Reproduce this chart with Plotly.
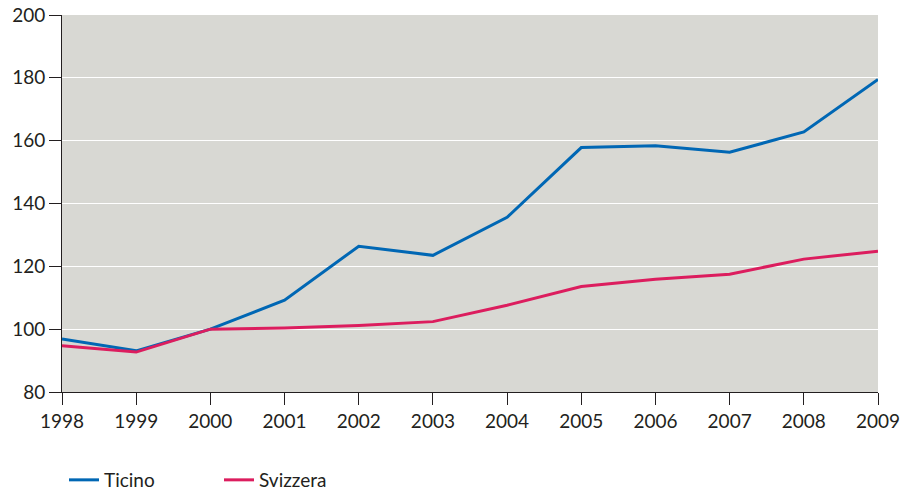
import plotly.graph_objects as go

years = [1998, 1999, 2000, 2001, 2002, 2003, 2004, 2005, 2006, 2007, 2008, 2009]
ticino = [96.9, 93.1, 100.0, 109.2, 126.4, 123.5, 135.6, 157.8, 158.4, 156.3, 162.8, 179.5]
svizzera = [94.7, 92.7, 100.0, 100.4, 101.2, 102.4, 107.6, 113.6, 115.9, 117.5, 122.3, 124.8]
y_ticks = [80, 100, 120, 140, 160, 180, 200]

fig = go.Figure()
fig.add_trace(go.Scatter(x=years, y=ticino, mode="lines", name="Ticino",
                         line=dict(color="#0067b4", width=3)))
fig.add_trace(go.Scatter(x=years, y=svizzera, mode="lines", name="Svizzera",
                         line=dict(color="#dc1d5e", width=3)))

font_family = "Lato, 'Open Sans', sans-serif"
fig.update_layout(
    width=911, height=492,
    margin=dict(l=62, r=33, t=15, b=100, autoexpand=False),
    paper_bgcolor="white",
    plot_bgcolor="#d8d8d3",
    font=dict(family=font_family, size=19, color="#231f20"),
    showlegend=True,
    legend=dict(orientation="h", xref="container", yref="container",
                x=64 / 911, y=1 - 480 / 492, xanchor="left", yanchor="middle",
                font=dict(size=19, color="#231f20"), entrywidth=110, itemwidth=30,
                bgcolor="rgba(0,0,0,0)"),
)
fig.update_xaxes(range=[1998, 2009], tickvals=years, ticktext=[str(y) for y in years],
                 showgrid=False, zeroline=False, showline=True, linecolor="#231f20", linewidth=1,
                 ticks="outside", ticklen=12, tickcolor="#231f20", tickwidth=1,
                 tickfont=dict(size=19))
fig.update_yaxes(range=[80, 200], tickvals=y_ticks, showgrid=True, gridcolor="white", gridwidth=1,
                 zeroline=False, showline=True, linecolor="#231f20", linewidth=1,
                 ticks="outside", ticklen=12, tickcolor="#231f20", tickwidth=1,
                 tickfont=dict(size=19))

fig.write_html("out.html")
